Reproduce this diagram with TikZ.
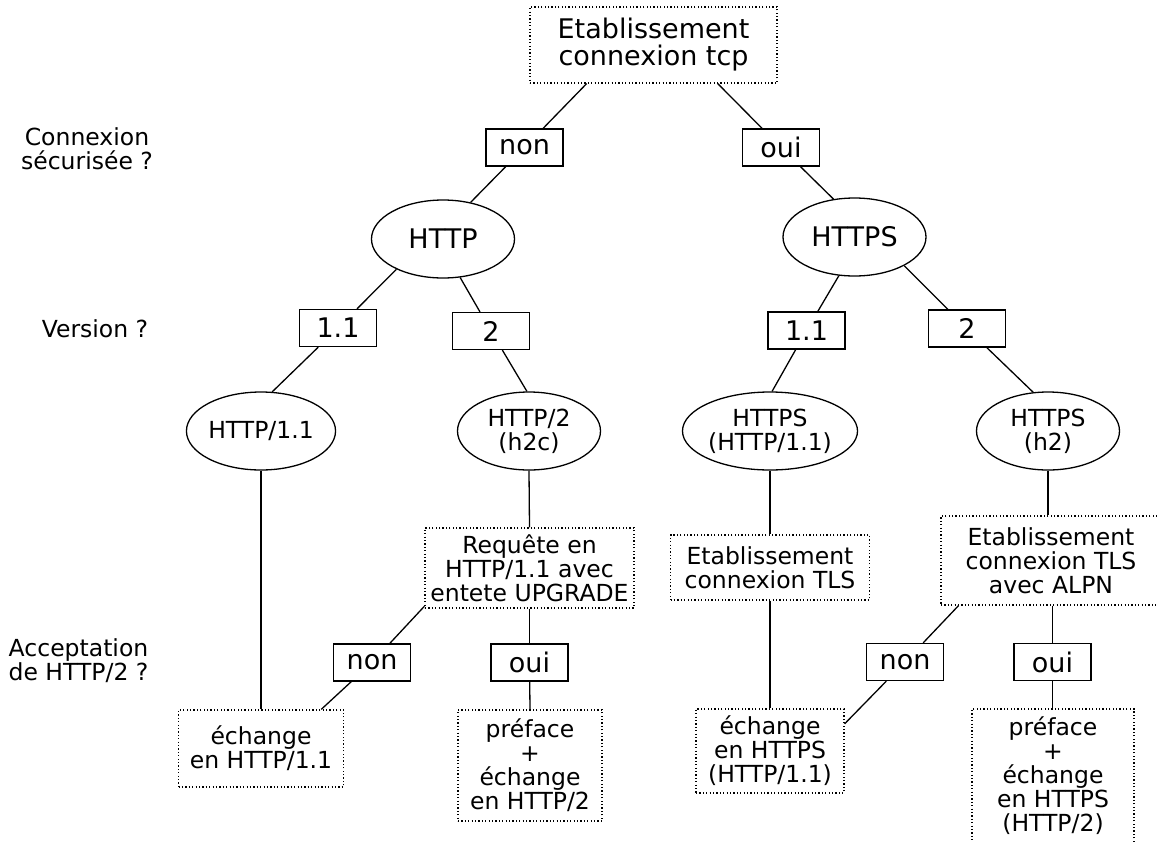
\documentclass[tikz,border=0pt]{standalone}
\usepackage{fontspec}
\setmainfont{DejaVu Sans}
\usetikzlibrary{shapes.geometric}
\begin{document}
\begin{tikzpicture}[x=1pt,y=-1pt,
  edge/.style={line width=1.3pt},
  big/.style={font=\fontsize{27}{27}\selectfont},
  small/.style={font=\fontsize{23.5}{24}\selectfont},
  dbox/.style={draw, line width=1.2pt, dash pattern=on 1.2pt off 2.2pt, rectangle, inner sep=0pt, align=center, small},
  lbox/.style={draw, line width=1.3pt, fill=white, rectangle, inner sep=0pt, minimum width=77pt, minimum height=37pt, big},
  bigell/.style={draw, line width=1.3pt, ellipse, inner sep=0pt, minimum width=143pt, minimum height=78pt, big},
  smell/.style={draw, line width=1.3pt, ellipse, inner sep=0pt, minimum width=143pt, minimum height=78pt, small, align=center},
  lab/.style={align=center, small, inner sep=0pt}
]
\useasboundingbox (0,0) rectangle (1157,841);

\node[dbox, big, minimum width=247pt, minimum height=76pt] (top) at (653.5,45) {Etablissement\\connexion tcp};
\node[lbox] (non) at (524.5,147.5) {non};
\node[lbox] (oui) at (781,147.5) {oui};
\node[bigell] (http) at (443,239) {HTTP};
\node[bigell] (https) at (854.5,237) {HTTPS};
\node[lbox] (va) at (338,328) {1.1};
\node[lbox] (vb) at (491,331) {2};
\node[lbox] (vc) at (806.5,330.5) {1.1};
\node[lbox] (vd) at (967,328.5) {2};
\node[smell] (h11) at (261,431) {HTTP/1.1};
\node[smell] (h2c) at (529,431) {HTTP/2\\(h2c)};
\node[smell, minimum width=146pt] (hs11) at (770,431) {HTTPS\\(HTTP/1.1)};
\node[smell] (hs2) at (1048,431) {HTTPS\\(h2)};

\node[dbox, minimum width=209pt, minimum height=80pt] (req) at (529.5,568) {Requête en\\HTTP/1.1 avec\\entete UPGRADE};
\node[dbox, minimum width=199pt, minimum height=65pt] (tls) at (770,567.5) {Etablissement\\connexion TLS};
\node[dbox, minimum width=220pt, minimum height=89pt] (alpn) at (1051,560.5) {Etablissement\\connexion TLS\\avec ALPN};
\node[lbox] (nona) at (372,662.5) {non};
\node[lbox] (ouia) at (529.5,662.5) {oui};
\node[lbox] (nonb) at (905,662) {non};
\node[lbox] (ouib) at (1052.5,662) {oui};
\node[dbox, minimum width=165pt, minimum height=77pt] (ex1) at (261,748.5) {échange\\en HTTP/1.1};
\node[dbox, minimum width=144pt, minimum height=111pt] (pre1) at (530,765.5) {préface\\+\\échange\\en HTTP/2};
\node[dbox, minimum width=148pt, minimum height=84pt] (ex2) at (770,751) {échange\\en HTTPS\\(HTTP/1.1)};
\node[dbox, minimum width=162pt, minimum height=134pt] (pre2) at (1053,776) {préface\\+\\échange\\en HTTPS\\(HTTP/2)};

\node[lab] (q1) at (87,149) {Connexion\\sécurisée ?};
\node[lab] (q2) at (95,329) {Version ?};
\node[lab] (q3) at (78.5,661) {Acceptation\\de HTTP/2 ?};

\draw[edge] (top.210) -- (non);
\draw[edge] (non) -- (http.53);
\draw[edge] (top.329.5) -- (oui);
\draw[edge] (oui) -- (https.119);
\draw[edge] (http.213.7) -- (va);
\draw[edge] (va) -- (h11.74);
\draw[edge] (http.294) -- (vb);
\draw[edge] (vb) -- (h2c.93);
\draw[edge] (https.248.3) -- (vc);
\draw[edge] (vc) -- (hs11.87);
\draw[edge] (https.330.6) -- (vd);
\draw[edge] (vd) -- (hs2.111);
\draw[edge] (h11.south) -- (ex1.north);
\draw[edge] (h2c.south) -- (req.north);
\draw[edge] (req.200) -- (nona);
\draw[edge] (nona) -- (ex1.33);
\draw[edge] (req.south) -- (ouia);
\draw[edge] (ouia) -- (pre1.north);
\draw[edge] (hs11.south) -- (tls.north);
\draw[edge] (tls.south) -- (ex2.north);
\draw[edge] (hs2.south) -- (hs2.south |- alpn.north);
\draw[edge] (alpn.206.8) -- (nonb);
\draw[edge] (nonb) -- (ex2.20.5);
\draw[edge] (alpn.south -| ouib) -- (ouib);
\draw[edge] (ouib) -- (pre2.north -| ouib);
\end{tikzpicture}
\end{document}
